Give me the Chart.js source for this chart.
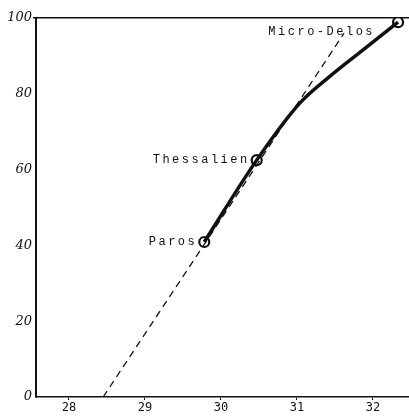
<!DOCTYPE html>
<html>
<head>
<meta charset="utf-8">
<script src="https://cdn.jsdelivr.net/npm/chart.js@4"></script>
<style>
  html, body { margin: 0; padding: 0; background: #fff; }
  #wrap { width: 409px; height: 418px; }
</style>
</head>
<body>
<div id="wrap"><canvas id="grafico"></canvas></div>
<script>
// Punkte (beschriftet)
const namen = ["Paros", "Thessalien", "Micro-Delos"];
const punktX = [29.78, 30.47, 32.33];
const punktY = [40.9, 62.5, 98.9];

// ausgezogene Kurve
const kurveX = [29.78, 30.47, 31.04, 31.42, 31.87, 32.33];
const kurveY = [40.9, 62.5, 77.6, 84.4, 91.6, 98.9];

// gestrichelte Gerade
const strichX = [28.45, 31.62];
const strichY = [0, 96];

// Achsenbeschriftung
const xTicks = [28, 29, 30, 31, 32];
const yTicks = [0, 20, 40, 60, 80, 100];

const zip = (xs, ys) => xs.map((x, i) => ({ x: x, y: ys[i] }));

// Beschriftung neben den Punkten
const labelPlugin = {
  id: "labels",
  afterDatasetsDraw(chart) {
    const ctx = chart.ctx;
    const meta = chart.getDatasetMeta(2);
    ctx.save();
    ctx.font = "12px 'Liberation Mono', monospace";
    ctx.letterSpacing = "2.5px";
    ctx.fillStyle = "#111";
    ctx.textAlign = "right";
    ctx.textBaseline = "middle";
    meta.data.forEach((p, i) => {
      if (i === 2) ctx.fillText(namen[i], p.x - 23, p.y + 10);
      else ctx.fillText(namen[i], p.x - 7, p.y);
    });
    ctx.restore();
  },
};

new Chart(document.getElementById("grafico"), {
  type: "scatter",
  data: {
    datasets: [
      {
        data: zip(strichX, strichY),
        showLine: true,
        borderColor: "#111",
        borderWidth: 1.3,
        borderDash: [7, 5],
        pointRadius: 0,
      },
      {
        data: zip(kurveX, kurveY),
        showLine: true,
        borderColor: "#111",
        borderWidth: 3.5,
        cubicInterpolationMode: "monotone",
        pointRadius: 0,
      },
      {
        data: zip(punktX, punktY),
        pointRadius: 5,
        borderWidth: 2.2,
        borderColor: "#111",
        backgroundColor: "#fff",
      },
      {
        data: zip(punktX, punktY),
        pointRadius: 1.3,
        borderWidth: 0,
        backgroundColor: "#111",
      },
    ],
  },
  options: {
    responsive: true,
    maintainAspectRatio: false,
    animation: false,
    layout: { autoPadding: false, padding: { top: 18, right: 0, left: 0, bottom: 0 } },
    plugins: { legend: { display: false }, tooltip: { enabled: false } },
    scales: {
      x: {
        type: "linear",
        min: 27.566,
        max: 32.474,
        afterFit: (s) => { s.height = 21; },
        afterBuildTicks: (s) => { s.ticks = xTicks.map((v) => ({ value: v })); },
        border: { color: "#111", width: 1.6 },
        grid: { display: true, drawOnChartArea: false, tickLength: 3, color: "#111" },
        ticks: {
          includeBounds: false,
          padding: 1,
          color: "#111",
          font: { family: "'DejaVu Sans Mono', monospace", size: 12 },
        },
      },
      y: {
        min: 0,
        max: 100,
        afterFit: (s) => { s.width = 36; },
        afterBuildTicks: (s) => { s.ticks = yTicks.map((v) => ({ value: v })); },
        border: { color: "#111", width: 2 },
        grid: {
          color: (c) => (c.tick && c.tick.value === 100 ? "#111" : "rgba(0,0,0,0)"),
          lineWidth: 1.6,
          tickLength: 3,
        },
        ticks: {
          padding: 1,
          color: "#111",
          font: { family: "'DejaVu Serif', serif", size: 13, style: "italic" },
        },
      },
    },
  },
  plugins: [labelPlugin],
});
</script>
</body>
</html>
